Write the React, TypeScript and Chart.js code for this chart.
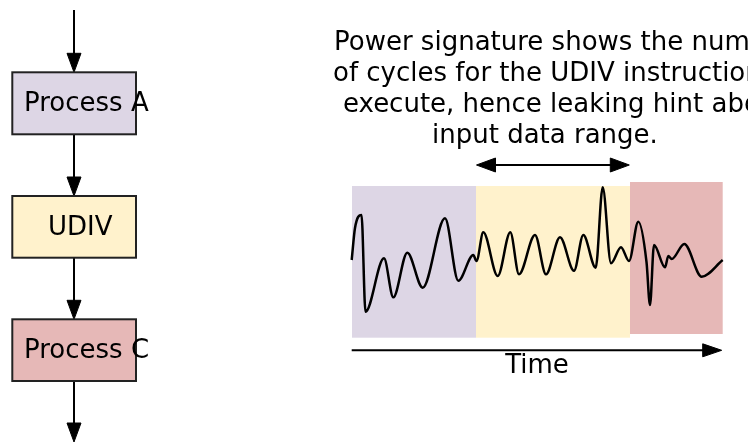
import React, { useEffect, useRef } from "react";
import { Chart, registerables } from "chart.js";

Chart.register(...registerables);

// ---- Data ----
// Power trace samples (time position, power level) in diagram units
const traceTime = [
  351.7, 355, 361.5, 365.5, 384, 393.3, 407.3, 422.7, 445, 458.3, 473.3, 476.5,
  483.3, 497.7, 510.3, 519, 535, 546, 560, 574, 583.3, 595.7, 602.7, 611, 621,
  629, 638.3, 646.5, 650, 654, 665, 668.3, 671.7, 684.3, 701.7, 722.7,
];
const tracePower = [
  260, 228, 215, 311.7, 258.3, 297.3, 252.7, 287.7, 218.3, 280.7, 255, 261,
  232.3, 276, 232.3, 274.3, 235, 274.3, 237.3, 270.7, 235, 267.7, 187.3, 263.3, 247.3,
  261, 221.7, 262, 305, 245, 267.3, 256, 259, 244, 276.7, 260,
];

// Flow steps
const stepLabels = ["Process A", "UDIV", "Process C"];
const stepColors = ["#ddd6e5", "#fff2cc", "#e6b8b7"];

// Annotation text
const noteLines = [
  "Power signature shows the number",
  "of cycles for the UDIV instruction to",
  "execute, hence leaking hint about",
  "input data range.",
];
const axisLabel = "Time";

// ---- Layout (diagram units) ----
const W = 748;
const H = 442;
const FONT = '26px "DejaVu Sans", sans-serif';
const stepBoxes = [
  { x0: 12.3, x1: 136, y0: 72.3, y1: 134.3, tx: 24, ty: 110.7 },
  { x0: 12.3, x1: 136, y0: 196, y1: 257.7, tx: 48, ty: 235 },
  { x0: 12.3, x1: 136, y0: 319.3, y1: 381, tx: 24, ty: 358.3 },
];
const flowX = 74;
const flowArrows = [
  [10, 72.3],
  [134.3, 196],
  [257.7, 319.3],
  [381, 442],
];
const phaseRects = [
  { x0: 352, x1: 476, y0: 186, y1: 337.7 },
  { x0: 476, x1: 630, y0: 186, y1: 337.7 },
  { x0: 630, x1: 722.7, y0: 182, y1: 334 },
];
const notePos = [
  { x: 334, y: 50 },
  { x: 333, y: 81 },
  { x: 343, y: 112 },
  { x: 432, y: 143 },
];
const rangeArrow = { x0: 476.5, x1: 629.3, y: 165 };
const timeArrow = { x0: 351.7, x1: 721.7, y: 350.3 };
const timeLabelPos = { x: 537, y: 373.3 };

function arrowHead(
  ctx: CanvasRenderingContext2D,
  tipX: number,
  tipY: number,
  dirX: number,
  dirY: number,
  len: number,
  half: number
) {
  const bx = tipX - dirX * len;
  const by = tipY - dirY * len;
  const px = -dirY;
  const py = dirX;
  ctx.beginPath();
  ctx.moveTo(tipX, tipY);
  ctx.lineTo(bx + px * half, by + py * half);
  ctx.lineTo(bx - px * half, by - py * half);
  ctx.closePath();
  ctx.fill();
  ctx.lineWidth = 1;
  ctx.stroke();
}

const diagramPlugin = {
  id: "diagram",
  beforeDatasetsDraw(chart: any) {
    const ctx: CanvasRenderingContext2D = chart.ctx;
    const xs = chart.scales.x;
    const ys = chart.scales.y;
    const X = (v: number) => xs.getPixelForValue(v);
    const Y = (v: number) => ys.getPixelForValue(v);
    ctx.save();

    // phase backgrounds behind trace
    phaseRects.forEach((r, i) => {
      ctx.fillStyle = stepColors[i];
      ctx.fillRect(X(r.x0), Y(r.y0), X(r.x1) - X(r.x0), Y(r.y1) - Y(r.y0));
    });

    // flow arrows
    ctx.strokeStyle = "#000";
    ctx.fillStyle = "#000";
    flowArrows.forEach(([a, b]) => {
      ctx.lineWidth = 2;
      ctx.beginPath();
      ctx.moveTo(X(flowX), Y(a));
      ctx.lineTo(X(flowX), Y(b) - 10);
      ctx.stroke();
      arrowHead(ctx, X(flowX), Y(b), 0, 1, 19, 7);
    });

    // step boxes
    stepBoxes.forEach((b, i) => {
      ctx.fillStyle = stepColors[i];
      ctx.fillRect(X(b.x0), Y(b.y0), X(b.x1) - X(b.x0), Y(b.y1) - Y(b.y0));
      ctx.strokeStyle = "#222";
      ctx.lineWidth = 2;
      ctx.strokeRect(X(b.x0), Y(b.y0), X(b.x1) - X(b.x0), Y(b.y1) - Y(b.y0));
      ctx.fillStyle = "#000";
      ctx.font = FONT;
      ctx.textAlign = "left";
      ctx.textBaseline = "alphabetic";
      ctx.fillText(stepLabels[i], X(b.tx), Y(b.ty));
    });

    // annotation
    ctx.fillStyle = "#000";
    ctx.strokeStyle = "#000";
    ctx.font = FONT;
    ctx.textAlign = "left";
    ctx.textBaseline = "alphabetic";
    noteLines.forEach((t, i) => {
      ctx.fillText(t, X(notePos[i].x), Y(notePos[i].y));
    });

    // range double arrow
    ctx.lineWidth = 2;
    ctx.beginPath();
    ctx.moveTo(X(rangeArrow.x0) + 10, Y(rangeArrow.y));
    ctx.lineTo(X(rangeArrow.x1) - 10, Y(rangeArrow.y));
    ctx.stroke();
    arrowHead(ctx, X(rangeArrow.x0), Y(rangeArrow.y), -1, 0, 19, 7);
    arrowHead(ctx, X(rangeArrow.x1), Y(rangeArrow.y), 1, 0, 19, 7);

    // time arrow
    ctx.lineWidth = 2;
    ctx.beginPath();
    ctx.moveTo(X(timeArrow.x0), Y(timeArrow.y));
    ctx.lineTo(X(timeArrow.x1) - 10, Y(timeArrow.y));
    ctx.stroke();
    arrowHead(ctx, X(timeArrow.x1), Y(timeArrow.y), 1, 0, 19, 6.5);

    ctx.textAlign = "center";
    ctx.fillText(axisLabel, X(timeLabelPos.x), Y(timeLabelPos.y));

    ctx.restore();
  },
};

export default function App() {
  const ref = useRef<HTMLCanvasElement | null>(null);
  useEffect(() => {
    if (!ref.current) return;
    const chart = new Chart(ref.current, {
      type: "scatter",
      data: {
        datasets: [
          {
            label: "Power",
            data: traceTime.map((t, i) => ({ x: t, y: tracePower[i] })),
            showLine: true,
            borderColor: "#000",
            borderWidth: 2.5,
            pointRadius: 0,
            cubicInterpolationMode: "monotone",
            fill: false,
          },
        ],
      },
      options: {
        animation: false,
        responsive: false,
        maintainAspectRatio: false,
        layout: { padding: 0 },
        plugins: {
          legend: { display: false },
          tooltip: { enabled: false },
        },
        scales: {
          x: { type: "linear", min: 0, max: W, display: false },
          y: { type: "linear", min: 0, max: H, reverse: true, display: false },
        },
      },
      plugins: [diagramPlugin],
    } as any);
    return () => chart.destroy();
  }, []);
  return (
    <div style={{ position: "fixed", left: 0, top: 0, width: W, height: H, background: "#fff" }}>
      <canvas ref={ref} width={W} height={H} style={{ display: "block" }} />
    </div>
  );
}
